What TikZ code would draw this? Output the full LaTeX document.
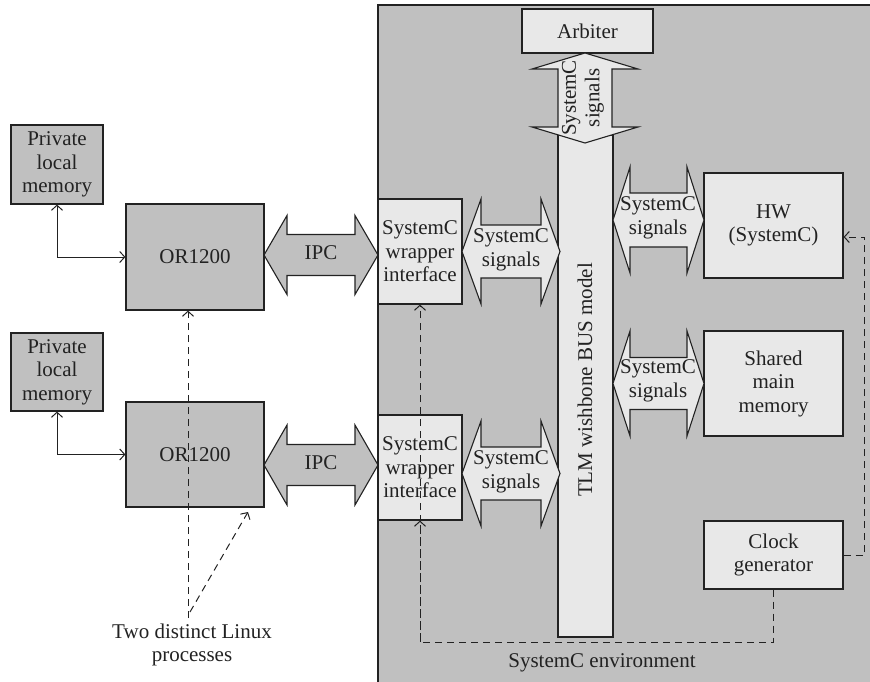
\documentclass[tikz,border=0pt]{standalone}
\usepackage{fontspec}
\setmainfont{Liberation Serif}
\usetikzlibrary{arrows.meta,calc}
\definecolor{darkfill}{HTML}{C0C0C0}
\definecolor{lightfill}{HTML}{E8E8E8}
\definecolor{ink}{HTML}{222222}

% horizontal double block arrow: xa, xb, yc, shaft half, head half, head length, fill
\newcommand\hdarrow[7]{%
  \draw[blockarrow, fill=#7] (#1,#3) -- ({#1+#6},{#3-#5}) -- ({#1+#6},{#3-#4})
    -- ({#2-#6},{#3-#4}) -- ({#2-#6},{#3-#5}) -- (#2,#3) -- ({#2-#6},{#3+#5})
    -- ({#2-#6},{#3+#4}) -- ({#1+#6},{#3+#4}) -- ({#1+#6},{#3+#5}) -- cycle;}
% vertical double block arrow: ya, yb, xc, shaft half, head half, head length, fill
\newcommand\vdarrow[7]{%
  \draw[blockarrow, fill=#7] (#3,#1) -- ({#3-#5},{#1+#6}) -- ({#3-#4},{#1+#6})
    -- ({#3-#4},{#2-#6}) -- ({#3-#5},{#2-#6}) -- (#3,#2) -- ({#3+#5},{#2-#6})
    -- ({#3+#4},{#2-#6}) -- ({#3+#4},{#1+#6}) -- ({#3+#5},{#1+#6}) -- cycle;}

\tikzset{
  txt/.style={font=\fontsize{21}{23.5}\selectfont, text=ink, align=center, inner sep=0pt},
  darkbox/.style={txt, draw=ink, line width=1.2pt, fill=darkfill},
  lightbox/.style={txt, draw=ink, line width=1.2pt, fill=lightfill},
  blockarrow/.style={draw=ink, line width=1.1pt, line join=miter},
  link/.style={draw=ink, line width=1pt},
  dashline/.style={draw=ink, line width=1pt, dash pattern=on 7pt off 5pt},
  tip/.style={-{Straight Barb[length=5pt,width=11pt]}},
  tips/.style={{Straight Barb[length=5pt,width=11pt]}-{Straight Barb[length=5pt,width=11pt]}}
}

\begin{document}
\begin{tikzpicture}[x=1pt, y=-1pt]
\useasboundingbox (0,0) rectangle (870,682);

% SystemC environment
\fill[darkfill] (378,5) rectangle (880,700);
\draw[ink, line width=1.4pt] (378,700) -- (378,5) -- (880,5);
\node[txt] (envlabel) at (602,663) {SystemC environment};

% processor side
\node[darkbox, minimum width=92pt, minimum height=79pt] (mem1) at (57,164.5) {Private\\local\\memory};
\node[darkbox, minimum width=92pt, minimum height=78pt] (mem2) at (57,372) {Private\\local\\memory};
\node[darkbox, minimum width=138pt, minimum height=106pt] (or1) at (195,257) {OR1200};
\node[darkbox, minimum width=138pt, minimum height=105pt] (or2) at (195,454.5) {OR1200};

\draw[link, tips] (mem1.south) |- (or1.west);
\draw[link, tips] (mem2.south) |- (or2.west);

% IPC links
\hdarrow{264}{378}{255}{20.5}{39.5}{23}{darkfill}
\node[txt] (ipc1) at (321,253) {IPC};
\hdarrow{264}{378}{465}{20.5}{40}{23}{darkfill}
\node[txt] (ipc2) at (321,463) {IPC};

% SystemC modules
\node[lightbox, minimum width=84pt, minimum height=105pt] (wrap1) at (420,251.5) {SystemC\\wrapper\\interface};
\node[lightbox, minimum width=84pt, minimum height=105pt] (wrap2) at (420,467.5) {SystemC\\wrapper\\interface};
\node[lightbox, minimum width=131pt, minimum height=44pt] (arb) at (587.5,31) {Arbiter};
\node[lightbox, minimum width=55pt, minimum height=502pt] (bus) at (585.5,386) {};
\node[txt, rotate=90] (buslabel) at (585,380) {TLM wishbone BUS model};
\node[lightbox, minimum width=139pt, minimum height=105pt] (hw) at (773.5,225.5) {HW\\(SystemC)};
\node[lightbox, minimum width=139pt, minimum height=105pt] (shm) at (773.5,383.5) {Shared\\main\\memory};
\node[lightbox, minimum width=139pt, minimum height=68pt] (clk) at (773.5,555) {Clock\\generator};

% signal links
\hdarrow{462}{560}{251.5}{26.5}{52.5}{19}{lightfill}
\node[txt] (sig1) at (511,250) {SystemC\\signals};
\hdarrow{462}{560}{473.5}{26.5}{52.5}{19}{lightfill}
\node[txt] (sig2) at (511,472) {SystemC\\signals};
\hdarrow{613}{704}{220}{27}{53}{17}{lightfill}
\node[txt] (sig3) at (658,218) {SystemC\\signals};
\hdarrow{613}{704}{383.5}{26}{52.5}{17}{lightfill}
\node[txt] (sig4) at (658,381) {SystemC\\signals};
\vdarrow{53}{143}{585}{27}{53}{16}{lightfill}
\node[txt, rotate=90] (sig5) at (583,98) {SystemC\\signals};

% clock distribution
\coordinate (bend) at (420,642);
\draw[dashline, tip] (clk.south) -- (clk.south |- bend) -- (bend) -- (wrap2.south);
\draw[dashline, tip] (bend) -- (wrap1.south);
\draw[dashline, tip] (clk.east) -- ++(21,0) |- ($(hw.east)+(0,11.5)$);

% Linux processes
\node[txt] (linux) at (192,645) {Two distinct Linux\\processes};
\coordinate (src1) at (188,618);
\coordinate (src2) at (190,612);
\coordinate (tgt2) at (248,512);
\draw[dashline, tip] (src1) -- (src1 |- or1.south);
\draw[dashline, tip] (src2) -- (tgt2);
\end{tikzpicture}
\end{document}
